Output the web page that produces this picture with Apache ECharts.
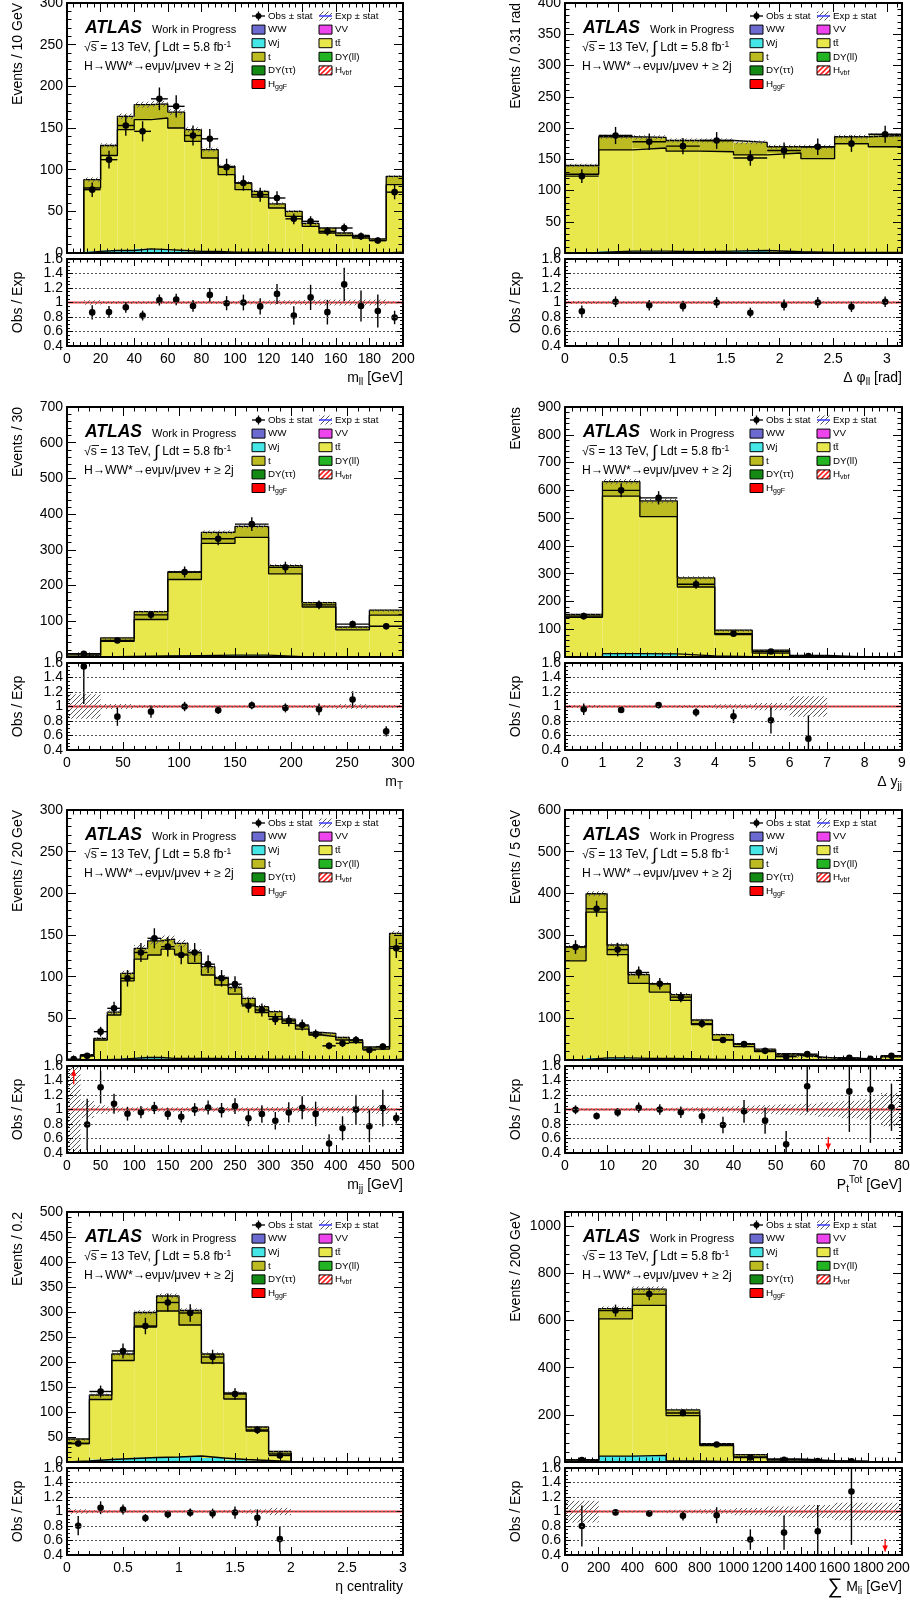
<!DOCTYPE html>
<html>
<head>
<meta charset="utf-8">
<title>H→WW* VBF selection: control distributions</title>
<script src="https://cdn.jsdelivr.net/npm/echarts@6.0.0/dist/echarts.min.js"></script>
<style>
  html, body { margin: 0; padding: 0; background: #fff; }
  #chart { width: 910px; height: 1606px; }
</style>
</head>
<body>
<div id="chart"></div>
<script>
// ---------------- Binned yields (events per bin) ----------------
// m_ll [GeV], 20 bins
const mllRange = [0, 200];
const mllWj    = [0, 2, 3, 3, 5, 4, 3, 2, 2, 1, 1, 1, 0.5, 0.5, 0.5, 0.5, 0.3, 0.3, 0.2, 1];
const mllTtbar = [0.5, 76, 114, 145, 155, 158, 147, 132, 112, 93, 75, 66, 53.5, 43.5, 31.5, 23.5, 20.7, 17.7, 14.8, 81];
const mllTop   = [0.3, 10, 12, 16, 18, 17, 19, 14, 10, 10, 8, 7, 5, 6, 3.5, 6, 3, 3, 2, 10];
const mllObs   = [null, 76, 112, 153, 146, 185, 176, 141, 137, 103, 84, 70, 66, 41, 38, 26, 30, 20, 15, 73];
const mllUnc   = [0, 0.03, 0.02, 0.02, 0.02, 0.02, 0.02, 0.02, 0.02, 0.02, 0.025, 0.025, 0.03, 0.03, 0.035, 0.04, 0.04, 0.04, 0.04, 0.015];

// Delta phi_ll [rad], 10 bins
const dphiRange = [0, Math.PI];
const dphiWj    = [1, 3, 3, 2, 3, 4, 2, 1, 1, 1];
const dphiTtbar = [125, 162, 165, 161, 159, 153, 158, 150, 174, 169];
const dphiTop   = [14, 21, 17, 17, 18, 20, 10, 19, 11, 18];
const dphiObs   = [123, 188, 178, 171, 180, 152, 164, 170, 175, 190];
const dphiUnc   = [0.02, 0.018, 0.018, 0.018, 0.018, 0.018, 0.018, 0.018, 0.018, 0.018];

// m_T, 10 bins
const mtRange = [0, 300];
const mtWj    = [0.2, 2, 3, 4, 5, 5, 1, 0.5, 0.3, 0.3];
const mtTtbar = [3.3, 42, 102, 213, 313, 330, 232, 139.5, 75.7, 116.7];
const mtTop   = [2.3, 9.5, 22, 21, 31, 31, 23, 12, 8, 14];
const mtObs   = [9, 46, 118, 238, 331, 372, 251, 146, 92, 86];
const mtUnc   = [0.17, 0.035, 0.02, 0.015, 0.015, 0.015, 0.015, 0.02, 0.03, 0.02];

// Delta y_jj, 9 bins
const dyjjRange = [0, 9];
const dyjjWj    = [2, 12, 11, 4, 1, 0.3, 0, 0, 0];
const dyjjTtbar = [141, 567, 494, 248, 80, 13.7, 2, 0, 0];
const dyjjTop   = [10, 52, 57, 33, 16, 10.7, 3.4, 0, 0];
const dyjjObs   = [147, 600, 573, 262, 84, 20, 3, null, null];
const dyjjUnc   = [0.02, 0.015, 0.015, 0.02, 0.03, 0.05, 0.14, 0, 0];

// m_jj [GeV], 25 bins
const mjjRange = [0, 500];
const mjjWj    = [0, 0.2, 0.5, 1, 2, 3, 3, 2, 2, 2, 2, 1.5, 1.5, 1.5, 1, 1, 1, 0.5, 0.5, 0.5, 0.3, 0.3, 0.2, 0.2, 1];
const mjjTtbar = [0.2, 4.8, 23.5, 53, 93, 118, 123, 131, 125, 114, 100, 88.5, 77.5, 65.5, 56, 51, 43, 36.5, 29.5, 27.5, 23.7, 20.7, 12.8, 12.8, 135];
const mjjTop   = [0.1, 1.3, 2, 3.4, 9, 13, 17, 12, 13, 13, 10, 9, 8, 7, 7, 6, 5, 4, 3, 4, 3, 3, 2.6, 2.7, 16];
const mjjObs   = [1, 5, 34, 62, 98, 129, 146, 136, 126, 129, 115, 98, 91, 65, 60, 49, 47, 42, 31, 17, 20, 24, 12, 16, 134];
const mjjUnc   = [1.0, 0.12, 0.06, 0.04, 0.03, 0.03, 0.03, 0.03, 0.03, 0.03, 0.03, 0.03, 0.03, 0.03, 0.035, 0.035, 0.035, 0.04, 0.04, 0.04, 0.045, 0.05, 0.05, 0.06, 0.02];

// P_t^Tot [GeV], 16 bins
const ptotRange = [0, 80];
const ptotWj    = [1, 5, 5, 4, 4, 3, 2, 1, 0.5, 0.5, 0.3, 0.2, 0.1, 0.1, 0, 0.2];
const ptotTtbar = [237, 350, 248, 180, 159, 140, 83, 47.5, 31.5, 19.5, 11.7, 7.8, 3.9, 2.9, 1.8, 7.3];
const ptotTop   = [34, 44, 23, 21, 20, 14, 11, 12.5, 7, 6, 3.4, 2.6, 1.6, 1, 0.55, 2.2];
const ptotObs   = [271, 363, 265, 210, 183, 151, 87, 48, 38, 22, 8, 14, 0, 5, 3, 10];
const ptotUnc   = [0.015, 0.015, 0.015, 0.02, 0.02, 0.025, 0.03, 0.04, 0.05, 0.06, 0.07, 0.08, 0.1, 0.12, 0.14, 0.23];

// eta centrality, 15 bins
const etacRange = [0, 3];
const etacWj    = [2, 5, 7, 9, 10, 12, 8, 5, 3, 1, 0, 0, 0, 0, 0];
const etacTtbar = [35, 120, 196, 261, 292, 262, 190, 121, 59, 15, 0, 0, 0, 0, 0];
const etacTop   = [9, 9, 13, 29, 30, 29, 18, 12, 8, 5, 0, 0, 0, 0, 0];
const etacObs   = [37, 141, 222, 272, 319, 298, 210, 136, 64, 13, null, null, null, null, null];
const etacUnc   = [0.03, 0.02, 0.015, 0.015, 0.015, 0.015, 0.015, 0.02, 0.03, 0.05, 0, 0, 0, 0, 0];

// sum M_li [GeV], 10 bins
const summRange = [0, 2000];
const summWj    = [0.5, 25, 28, 5, 2, 0.5, 0.2, 0.1, 0, 0];
const summTtbar = [6.5, 582, 636, 192, 68, 21.5, 8.8, 3.9, 1.6, 1];
const summTop   = [3, 43, 69, 24, 8, 9, 3.7, 1.5, 0.75, 0.4];
const summObs   = [8, 642, 712, 208, 74, 19, 9, 4, 3, 0];
const summUnc   = [0.15, 0.015, 0.015, 0.025, 0.03, 0.05, 0.07, 0.09, 0.12, 0.12];

// ---------------- Panel descriptions ----------------
const panels = [
  { range: mllRange, wj: mllWj, tt: mllTtbar, top: mllTop, obs: mllObs, unc: mllUnc,
    yMax: 300, yStep: 50, xStep: 20, yTitle: 'Events / 10 GeV', xTitle: '{t|m}{s|ll}{t| [GeV]}' },
  { range: dphiRange, wj: dphiWj, tt: dphiTtbar, top: dphiTop, obs: dphiObs, unc: dphiUnc,
    yMax: 400, yStep: 50, xStep: 0.5, hideXMax: true, yTitle: 'Events / 0.31 rad', xTitle: '{t|Δ φ}{s|ll}{t| [rad]}' },
  { range: mtRange, wj: mtWj, tt: mtTtbar, top: mtTop, obs: mtObs, unc: mtUnc,
    yMax: 700, yStep: 100, xStep: 50, yTitle: 'Events / 30', xTitle: '{t|m}{s|T}' },
  { range: dyjjRange, wj: dyjjWj, tt: dyjjTtbar, top: dyjjTop, obs: dyjjObs, unc: dyjjUnc,
    yMax: 900, yStep: 100, xStep: 1, yTitle: 'Events', xTitle: '{t|Δ y}{s|jj}' },
  { range: mjjRange, wj: mjjWj, tt: mjjTtbar, top: mjjTop, obs: mjjObs, unc: mjjUnc,
    yMax: 300, yStep: 50, xStep: 50, yTitle: 'Events / 20 GeV', xTitle: '{t|m}{s|jj}{t| [GeV]}' },
  { range: ptotRange, wj: ptotWj, tt: ptotTtbar, top: ptotTop, obs: ptotObs, unc: ptotUnc,
    yMax: 600, yStep: 100, xStep: 10, yTitle: 'Events / 5 GeV', xTitle: '{t|P}{s|t}{p|Tot}{t| [GeV]}' },
  { range: etacRange, wj: etacWj, tt: etacTtbar, top: etacTop, obs: etacObs, unc: etacUnc,
    yMax: 500, yStep: 50, xStep: 0.5, yTitle: 'Events / 0.2', xTitle: '{t|η centrality}' },
  { range: summRange, wj: summWj, tt: summTtbar, top: summTop, obs: summObs, unc: summUnc,
    yMax: 1060, yStep: 200, xStep: 200, hideYMax: true, yTitle: 'Events / 200 GeV', xTitle: '{b|∑} {t|M}{s|li}{t| [GeV]}' }
];

// Legend entries: [label (rich text), fill]
const legendLeft  = [['{t|WW}', 'ww'], ['{t|Wj}', 'wj'], ['{t|t}', 't'], ['{t|DY(ττ)}', 'dytt'], ['{t|H}{s|ggF}', 'ggf']];
const legendRight = [['{t|VV}', 'vv'], ['{t|tt̄}', 'tt'], ['{t|DY(ll)}', 'dyll'], ['{t|H}{s|vbf}', 'vbf']];

// ---------------- Style ----------------
const FONT = '"Liberation Sans", Arial, Helvetica, sans-serif';
const COL = {
  ww: '#6a6ad0', vv: '#ee44ee', wj: '#44e6e6', tt: '#e8e74c', t: '#bcbc22',
  dyll: '#22b422', dytt: '#138a13', ggf: '#ff0000', ratioLine: '#ee3b3b'
};
const STACK_COLORS = [COL.wj, COL.tt, COL.t];
const ROWS = [3, 407, 810, 1212];
const MAIN_H = 250, RATIO_OFF = 256, RATIO_H = 87;
const RMIN = 0.4, RMAX = 1.6;

function hatch(color, bg, step, lw) {
  const c = document.createElement('canvas');
  c.width = step; c.height = step;
  const g = c.getContext('2d');
  if (bg) { g.fillStyle = bg; g.fillRect(0, 0, step, step); }
  g.strokeStyle = color; g.lineWidth = lw;
  g.beginPath();
  g.moveTo(-1, step + 1); g.lineTo(step + 1, -1);
  g.moveTo(-step / 2 - 1, step / 2 + 1); g.lineTo(step / 2 + 1, -step / 2 - 1);
  g.moveTo(step / 2 - 1, step * 1.5 + 1); g.lineTo(step * 1.5 + 1, step / 2 - 1);
  g.stroke();
  return { image: c, repeat: 'repeat' };
}
const HATCH_GREY = hatch('#5a5a5a', null, 5, 1);
const HATCH_VBF = hatch('#ff2020', '#ffffff', 5, 1.6);
COL.vbf = HATCH_VBF;

const tickLine = { color: '#000', width: 1 };
const labelStyle = { color: '#000', fontSize: 14, fontFamily: FONT };
const plainNumber = v => String(Math.round(v * 1000) / 1000);

function xAxisDef(gi, P, pos, showLabels, len) {
  return {
    gridIndex: gi, type: 'value', position: pos, min: P.range[0], max: P.range[1], interval: P.xStep, z: 10,
    axisLine: { show: true, onZero: false, lineStyle: { color: '#000', width: 2 } },
    axisTick: { show: true, inside: true, length: len, lineStyle: tickLine },
    minorTick: { show: true, splitNumber: 5, length: len / 2, lineStyle: tickLine },
    splitLine: { show: false },
    axisLabel: showLabels ? Object.assign({ show: true, margin: 6, showMinLabel: true,
      showMaxLabel: !P.hideXMax, hideOverlap: false, formatter: plainNumber }, labelStyle) : { show: false }
  };
}
function yAxisDef(gi, min, max, step, pos, showLabels, len, minorSplit, grid, hideMax) {
  return {
    gridIndex: gi, type: 'value', position: pos, min: min, max: max, interval: step, z: 10,
    axisLine: { show: true, onZero: false, lineStyle: { color: '#000', width: 2 } },
    axisTick: { show: true, inside: true, length: len, lineStyle: tickLine },
    minorTick: { show: true, splitNumber: minorSplit, length: len / 2, lineStyle: tickLine },
    splitLine: grid ? { show: true, lineStyle: { color: '#555', width: 1, type: [2, 2] } } : { show: false },
    axisLabel: showLabels ? Object.assign({ show: true, margin: 4, showMinLabel: true,
      showMaxLabel: !hideMax, hideOverlap: false, formatter: plainNumber }, labelStyle) : { show: false }
  };
}

function stepPoints(edges, vals) {
  const pts = [[edges[0], 0]];
  for (let i = 0; i < vals.length; i++) {
    pts.push([edges[i], vals[i]], [edges[i + 1], vals[i]]);
  }
  pts.push([edges[vals.length], 0]);
  return pts;
}

const option = {
  animation: false,
  backgroundColor: '#ffffff',
  textStyle: { fontFamily: FONT },
  grid: [], xAxis: [], yAxis: [], series: [],
  graphic: { elements: [] }
};
const G = option.graphic.elements;

const richAxis = {
  t: { fontSize: 14, fontFamily: FONT, fill: '#000' },
  s: { fontSize: 10, fontFamily: FONT, fill: '#000', padding: [9, 0, 0, 0] },
  p: { fontSize: 10, fontFamily: FONT, fill: '#000', padding: [0, 0, 9, 0] },
  b: { fontSize: 21, fontFamily: FONT, fill: '#000' }
};
const richLeg = {
  t: { fontSize: 9.8, fontFamily: FONT, fill: '#000' },
  s: { fontSize: 7, fontFamily: FONT, fill: '#000', padding: [6, 0, 0, 0] }
};
const richInfo = {
  t: { fontSize: 12.2, fontFamily: FONT, fill: '#000' },
  i: { fontSize: 17, fontFamily: FONT, fill: '#000' },
  p: { fontSize: 8.5, fontFamily: FONT, fill: '#000', padding: [0, 0, 7, 0] }
};

function addLegend(x0, r0) {
  const rowY = j => r0 + 13 + 13.6 * j;
  const c1 = x0 + 185, c2 = x0 + 252, bw = 13, bh = 9;
  const txt = (x, y, s) => G.push({ type: 'text', x: x, y: y, z: 100,
    style: { text: s, rich: richLeg, fill: '#000', fontSize: 9.8, fontFamily: FONT, align: 'left', verticalAlign: 'middle' } });
  const box = (x, y, fill, stroke) => G.push({ type: 'rect', z: 100,
    shape: { x: x, y: y - bh / 2, width: bw, height: bh },
    style: { fill: fill, stroke: stroke === undefined ? '#000' : stroke, lineWidth: 1 } });

  // observed marker
  const y = rowY(0);
  G.push({ type: 'line', z: 100, shape: { x1: c1, y1: y, x2: c1 + bw, y2: y }, style: { stroke: '#000', lineWidth: 1.3 } });
  G.push({ type: 'line', z: 100, shape: { x1: c1 + bw / 2, y1: y - 4.5, x2: c1 + bw / 2, y2: y + 4.5 }, style: { stroke: '#000', lineWidth: 1.3 } });
  G.push({ type: 'circle', z: 101, shape: { cx: c1 + bw / 2, cy: y, r: 3 }, style: { fill: '#000' } });
  txt(c1 + 16, y, '{t|Obs ± stat}');
  // expected marker
  box(c2, y, HATCH_GREY, null);
  G.push({ type: 'line', z: 101, shape: { x1: c2, y1: y, x2: c2 + bw, y2: y }, style: { stroke: '#3b3bff', lineWidth: 1.5 } });
  txt(c2 + 16, y, '{t|Exp ± stat}');

  legendLeft.forEach((e, j) => { box(c1, rowY(j + 1), COL[e[1]]); txt(c1 + 16, rowY(j + 1), e[0]); });
  legendRight.forEach((e, j) => { box(c2, rowY(j + 1), COL[e[1]]); txt(c2 + 16, rowY(j + 1), e[0]); });
}

panels.forEach((P, k) => {
  const col = k % 2, row = Math.floor(k / 2);
  const x0 = col ? 565 : 67, w = col ? 337 : 336, r0 = ROWS[row];
  const n = P.tt.length;
  const edges = [];
  for (let i = 0; i <= n; i++) edges.push(P.range[0] + (P.range[1] - P.range[0]) * i / n);
  const c1 = P.wj.map(v => v);
  const c2 = P.wj.map((v, i) => v + P.tt[i]);
  const total = P.wj.map((v, i) => v + P.tt[i] + P.top[i]);
  const centers = edges.slice(0, n).map((e, i) => (e + edges[i + 1]) / 2);

  const gMain = 2 * k, gRatio = 2 * k + 1;
  option.grid.push({ left: x0, top: r0, width: w, height: MAIN_H, outerBoundsMode: 'none', containLabel: false });
  option.grid.push({ left: x0, top: r0 + RATIO_OFF, width: w, height: RATIO_H, outerBoundsMode: 'none', containLabel: false });

  const ax = 4 * k;
  option.xAxis.push(xAxisDef(gMain, P, 'bottom', false, 9));
  option.xAxis.push(xAxisDef(gMain, P, 'top', false, 9));
  option.xAxis.push(xAxisDef(gRatio, P, 'bottom', true, 8));
  option.xAxis.push(xAxisDef(gRatio, P, 'top', false, 7));
  option.yAxis.push(yAxisDef(gMain, 0, P.yMax, P.yStep, 'left', true, 9, 5, false, P.hideYMax));
  option.yAxis.push(yAxisDef(gMain, 0, P.yMax, P.yStep, 'right', false, 9, 5, false, P.hideYMax));
  option.yAxis.push(yAxisDef(gRatio, RMIN, RMAX, 0.2, 'left', true, 6, 4, true, false));
  option.yAxis.push(yAxisDef(gRatio, RMIN, RMAX, 0.2, 'right', false, 6, 4, false, false));

  const comps = [P.wj, P.tt, P.top];

  // stacked background fills
  option.series.push({
    type: 'custom', xAxisIndex: ax, yAxisIndex: ax, clip: true, z: 2, silent: true,
    data: centers.map((c, i) => [c, total[i]]),
    renderItem: (params, api) => {
      const i = params.dataIndex;
      const kids = [];
      let base = 0;
      comps.forEach((arr, ci) => {
        const v = arr[i] || 0;
        if (v > 0) {
          const a = api.coord([edges[i], base]), b = api.coord([edges[i + 1], base + v]);
          kids.push({ type: 'rect', shape: { x: a[0], y: b[1], width: b[0] - a[0], height: a[1] - b[1] },
            style: { fill: STACK_COLORS[ci] } });
        }
        base += v;
      });
      return { type: 'group', children: kids };
    }
  });
  // step outlines of each stacked level
  [c1, c2, total].forEach(vals => {
    option.series.push({
      type: 'line', xAxisIndex: ax, yAxisIndex: ax, z: 3, silent: true, clip: true,
      symbol: 'none', data: stepPoints(edges, vals),
      lineStyle: { color: '#000', width: 1.3 }
    });
  });
  // expected statistical uncertainty band
  option.series.push({
    type: 'custom', xAxisIndex: ax, yAxisIndex: ax, clip: true, z: 4, silent: true,
    data: centers.map((c, i) => [c, total[i]]),
    renderItem: (params, api) => {
      const i = params.dataIndex, tot = total[i], u = P.unc[i];
      if (!(tot > 0) || !(u > 0)) return { type: 'group', children: [] };
      const a = api.coord([edges[i], tot * (1 - u)]), b = api.coord([edges[i + 1], tot * (1 + u)]);
      return { type: 'rect', shape: { x: a[0], y: b[1], width: b[0] - a[0], height: Math.max(a[1] - b[1], 2.5) },
        style: { fill: HATCH_GREY } };
    }
  });
  // observed data with sqrt(N) errors
  option.series.push({
    type: 'custom', xAxisIndex: ax, yAxisIndex: ax, clip: true, z: 5, silent: true,
    data: centers.map((c, i) => [c, P.obs[i] == null ? 0 : P.obs[i]]),
    renderItem: (params, api) => {
      const i = params.dataIndex, v = P.obs[i];
      if (v == null || v <= 0) return { type: 'group', children: [] };
      const e = Math.sqrt(v);
      const c = api.coord([centers[i], v]);
      const up = api.coord([centers[i], v + e]), dn = api.coord([centers[i], v - e]);
      const l = api.coord([edges[i], v]), r = api.coord([edges[i + 1], v]);
      return { type: 'group', children: [
        { type: 'line', shape: { x1: c[0], y1: up[1], x2: c[0], y2: dn[1] }, style: { stroke: '#000', lineWidth: 1.4 } },
        { type: 'line', shape: { x1: l[0], y1: c[1], x2: r[0], y2: c[1] }, style: { stroke: '#000', lineWidth: 1.4 } },
        { type: 'circle', shape: { cx: c[0], cy: c[1], r: 3.3 }, style: { fill: '#000' } }
      ] };
    }
  });

  // ---- ratio panel ----
  const rx = ax + 2;
  option.series.push({
    type: 'custom', xAxisIndex: rx, yAxisIndex: rx, clip: true, z: 2, silent: true,
    data: centers.map(c => [c, 1]),
    renderItem: (params, api) => {
      const i = params.dataIndex, u = P.unc[i];
      if (!(total[i] > 0) || !(u > 0)) return { type: 'group', children: [] };
      const a = api.coord([edges[i], 1 - u]), b = api.coord([edges[i + 1], 1 + u]);
      return { type: 'rect', shape: { x: a[0], y: b[1], width: b[0] - a[0], height: a[1] - b[1] },
        style: { fill: HATCH_GREY } };
    }
  });
  option.series.push({
    type: 'line', xAxisIndex: rx, yAxisIndex: rx, z: 3, silent: true, symbol: 'none',
    data: [[P.range[0], 1], [P.range[1], 1]],
    lineStyle: { color: COL.ratioLine, width: 2 }
  });
  option.series.push({
    type: 'custom', xAxisIndex: rx, yAxisIndex: rx, clip: true, z: 5, silent: true,
    data: centers.map(c => [c, 1]),
    renderItem: (params, api) => {
      const i = params.dataIndex, v = P.obs[i], tot = total[i];
      if (v == null || !(tot > 0)) return { type: 'group', children: [] };
      const r = v / tot, e = Math.sqrt(v) / tot, x = centers[i];
      if (r > RMAX || r < RMIN) {
        const upward = r > RMAX;
        const a = api.coord([x, upward ? 1.35 : 0.62]), b = api.coord([x, upward ? 1.55 : 0.45]);
        const d = upward ? 1 : -1;
        return { type: 'group', children: [
          { type: 'line', shape: { x1: a[0], y1: a[1], x2: b[0], y2: b[1] }, style: { stroke: '#ff0000', lineWidth: 1.3 } },
          { type: 'polygon', shape: { points: [[b[0], b[1]], [b[0] - 2.8, b[1] + 6 * d], [b[0] + 2.8, b[1] + 6 * d]] }, style: { fill: '#ff0000' } }
        ] };
      }
      const c = api.coord([x, r]), up = api.coord([x, r + e]), dn = api.coord([x, r - e]);
      return { type: 'group', children: [
        { type: 'line', shape: { x1: c[0], y1: up[1], x2: c[0], y2: dn[1] }, style: { stroke: '#000', lineWidth: 1.4 } },
        { type: 'circle', shape: { cx: c[0], cy: c[1], r: 3.3 }, style: { fill: '#000' } }
      ] };
    }
  });

  // ---- texts ----
  G.push({ type: 'text', x: x0 - 49, y: r0, rotation: Math.PI / 2, z: 100,
    style: { text: P.yTitle, fill: '#000', fontSize: 14, fontFamily: FONT, align: 'right', verticalAlign: 'middle' } });
  G.push({ type: 'text', x: x0 - 49, y: r0 + RATIO_OFF + RATIO_H / 2, rotation: Math.PI / 2, z: 100,
    style: { text: 'Obs / Exp', fill: '#000', fontSize: 14, fontFamily: FONT, align: 'center', verticalAlign: 'middle' } });
  G.push({ type: 'text', x: x0 + w, y: r0 + 375, z: 100,
    style: { text: P.xTitle, rich: richAxis, fill: '#000', fontSize: 14, fontFamily: FONT, align: 'right', verticalAlign: 'middle' } });

  G.push({ type: 'text', x: x0 + 18, y: r0 + 25, z: 100,
    style: { text: 'ATLAS', fill: '#000', fontSize: 17.5, fontWeight: 'bold', fontStyle: 'italic', fontFamily: FONT, align: 'left', verticalAlign: 'middle' } });
  G.push({ type: 'text', x: x0 + 85, y: r0 + 27, z: 100,
    style: { text: 'Work in Progress', fill: '#000', fontSize: 11, fontFamily: FONT, align: 'left', verticalAlign: 'middle' } });
  G.push({ type: 'text', x: x0 + 17, y: r0 + 45, z: 100,
    style: { text: '{t|√s = 13 TeV, }{i|∫}{t| Ldt = 5.8 fb}{p|-1}', rich: richInfo, fill: '#000', fontSize: 12.2, fontFamily: FONT, align: 'left', verticalAlign: 'middle' } });
  G.push({ type: 'line', z: 100, shape: { x1: x0 + 24.5, y1: r0 + 38.5, x2: x0 + 32, y2: r0 + 38.5 }, style: { stroke: '#000', lineWidth: 0.9 } });
  G.push({ type: 'text', x: x0 + 17, y: r0 + 64, z: 100,
    style: { text: 'H→WW*→eνμν/μνeν + ≥ 2j', fill: '#000', fontSize: 12.2, fontFamily: FONT, align: 'left', verticalAlign: 'middle' } });

  addLegend(x0, r0);
});

const chart = echarts.init(document.getElementById('chart'), null, { renderer: 'canvas' });
chart.setOption(option);
</script>
</body>
</html>
